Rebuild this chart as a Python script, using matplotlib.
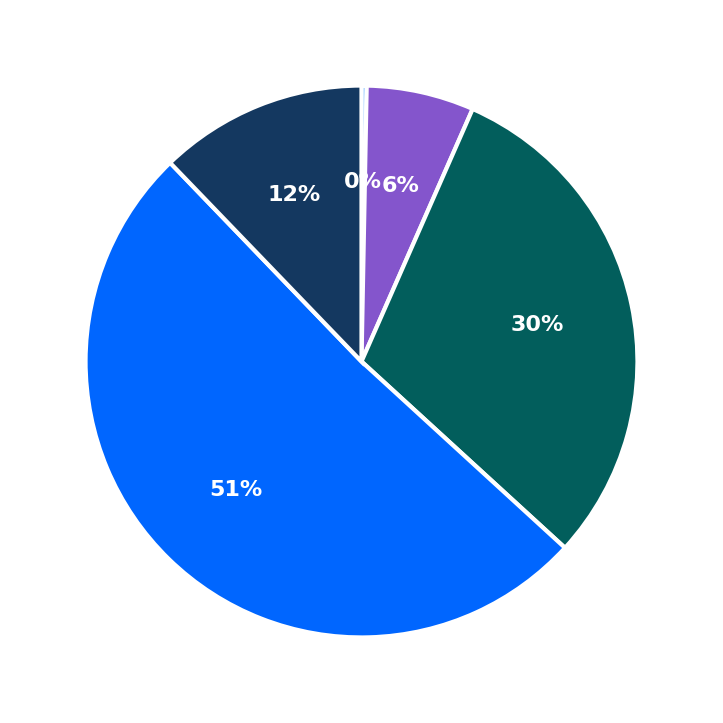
import matplotlib
matplotlib.use('Agg')
import matplotlib.pyplot as plt

labels = ['A', 'B', 'C', 'D', 'E']
values = [0.3, 6.3, 30.2, 51.0, 12.2]
colors = ['#1a8cff', '#8455cc', '#025e5c', '#0066ff', '#143860']

fig = plt.figure(figsize=(7.23, 7.23), dpi=100)
ax = fig.add_axes([0, 0, 1, 1])
wedges, texts, autotexts = ax.pie(
    values, colors=colors, startangle=90, counterclock=False,
    autopct='%1.0f%%', pctdistance=0.65,
    wedgeprops=dict(edgecolor='white', linewidth=3),
    textprops=dict(color='white', fontsize=16, fontweight='bold'))
ax.set_aspect('equal')
ax.set_xlim(-1.31, 1.31)
ax.set_ylim(-1.31, 1.31)
fig.savefig('out.png', dpi=100)
